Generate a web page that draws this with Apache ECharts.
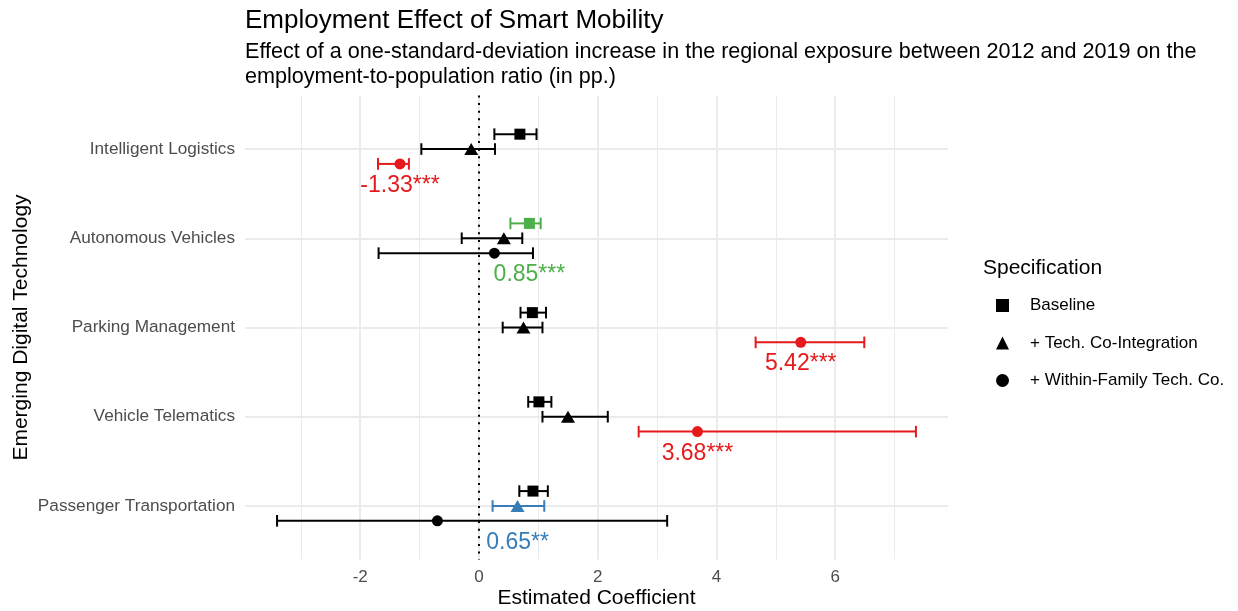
<!DOCTYPE html>
<html>
<head>
<meta charset="utf-8">
<script src="https://cdn.jsdelivr.net/npm/echarts@6/dist/echarts.min.js"></script>
<style>
  html, body { margin: 0; padding: 0; background: #fff; }
  #chart { width: 1238px; height: 611px; }
</style>
</head>
<body>
<div id="chart"></div>
<script>
// categories (top to bottom) and specifications
const technologies = ['Intelligent Logistics', 'Autonomous Vehicles', 'Parking Management', 'Vehicle Telematics', 'Passenger Transportation'];
const specs = ['Baseline', '+ Tech. Co-Integration', '+ Within-Family Tech. Co.'];

// point estimates and confidence bounds per specification
const baselineEst  = [0.69, 0.85, 0.90, 1.01, 0.91];
const baselineLow  = [0.26, 0.53, 0.70, 0.83, 0.68];
const baselineHigh = [0.97, 1.04, 1.13, 1.22, 1.16];

const coIntEst  = [-0.13, 0.42, 0.75, 1.50, 0.65];
const coIntLow  = [-0.97, -0.29, 0.40, 1.07, 0.23];
const coIntHigh = [0.27, 0.73, 1.07, 2.17, 1.10];

const familyEst  = [-1.33, 0.26, 5.42, 3.68, -0.70];
const familyLow  = [-1.70, -1.69, 4.66, 2.69, -3.40];
const familyHigh = [-1.18, 0.91, 6.49, 7.36, 3.17];

// significance stars shown only for highlighted estimates
const baselineStars = ['', '***', '', '', ''];
const coIntStars    = ['', '', '', '', '**'];
const familyStars   = ['***', '', '***', '***', ''];

const xTicks = [-2, 0, 2, 4, 6];
const xMinorTicks = [-3, -1, 1, 3, 5, 7];

const specColors = ['#4DAF4A', '#377EB8', '#E41A1C'];
const specSymbols = ['rect', 'triangle', 'circle'];
const symbolSizes = [11, [14, 12], 11];
const dodge = [-1 / 6, 0, 1 / 6];
const labelOffset = 0.41;

const ests = [baselineEst, coIntEst, familyEst];
const lows = [baselineLow, coIntLow, familyLow];
const highs = [baselineHigh, coIntHigh, familyHigh];
const stars = [baselineStars, coIntStars, familyStars];

let mycharts = echarts.init(document.getElementById('chart'));

function renderBar(params, api) {
    const y = api.value(2);
    const a = api.coord([api.value(0), y]);
    const b = api.coord([api.value(1), y]);
    const h = api.size([0, 0.13])[1] / 2;
    const style = { stroke: api.visual('color'), lineWidth: 2 };
    return {
        type: 'group',
        children: [
            { type: 'line', shape: { x1: a[0], y1: a[1], x2: b[0], y2: b[1] }, style: style },
            { type: 'line', shape: { x1: a[0], y1: a[1] - h, x2: a[0], y2: a[1] + h }, style: style },
            { type: 'line', shape: { x1: b[0], y1: b[1] - h, x2: b[0], y2: b[1] + h }, style: style }
        ]
    };
}

const series = [];
// error bars
specs.forEach(function (s, k) {
    series.push({
        type: 'custom',
        renderItem: renderBar,
        itemStyle: { color: '#000' },
        silent: true,
        z: 3,
        data: technologies.map(function (t, i) {
            const item = { value: [lows[k][i], highs[k][i], i + dodge[k]] };
            if (stars[k][i]) item.itemStyle = { color: specColors[k] };
            return item;
        })
    });
});
// points
specs.forEach(function (s, k) {
    series.push({
        name: s,
        type: 'scatter',
        symbol: specSymbols[k],
        symbolSize: symbolSizes[k],
        itemStyle: { color: '#000', opacity: 1 },
        z: 4,
        data: technologies.map(function (t, i) {
            const item = { value: [ests[k][i], i + dodge[k]] };
            if (stars[k][i]) item.itemStyle = { color: specColors[k] };
            return item;
        })
    });
});
// labels of highlighted estimates
const labelData = [];
specs.forEach(function (s, k) {
    technologies.forEach(function (t, i) {
        if (!stars[k][i]) return;
        labelData.push({
            value: [ests[k][i], i + labelOffset],
            label: { formatter: ests[k][i].toFixed(2) + stars[k][i], color: specColors[k] }
        });
    });
});
series.push({
    type: 'scatter',
    symbolSize: 0,
    silent: true,
    z: 5,
    label: {
        show: true,
        position: 'inside',
        fontSize: 23,
        fontFamily: 'Liberation Sans',
        textBorderWidth: 0,
        opacity: 1
    },
    data: labelData,
    markLine: {
        silent: true,
        symbol: 'none',
        label: { show: false },
        lineStyle: { color: '#000', width: 2, type: [2, 5.6] },
        data: [{ xAxis: 0 }]
    }
});

const option = {
    animation: false,
    textStyle: { fontFamily: 'Liberation Sans' },
    title: [
        {
            text: 'Employment Effect of Smart Mobility',
            left: 240, top: 3,
            textStyle: { fontSize: 26, fontWeight: 'normal', color: '#000' }
        },
        {
            text: 'Effect of a one-standard-deviation increase in the regional exposure between 2012 and 2019 on the\nemployment-to-population ratio (in pp.)',
            left: 240, top: 35,
            textStyle: { fontSize: 21.6, fontWeight: 'normal', color: '#000', lineHeight: 25 }
        },
        {
            text: 'Specification',
            left: 978, top: 253,
            textStyle: { fontSize: 21, fontWeight: 'normal', color: '#000' }
        }
    ],
    legend: {
        orient: 'vertical',
        left: 991, top: 292,
        itemWidth: 13, itemHeight: 13,
        itemGap: 20.5,
        selectedMode: false,
        textStyle: { fontSize: 17, color: '#000', padding: [0, 0, 0, 16] },
        data: [
            { name: specs[0], icon: 'rect' },
            { name: specs[1], icon: 'triangle' },
            { name: specs[2], icon: 'circle' }
        ]
    },
    grid: { left: 245, right: 290, top: 95.5, bottom: 51.5, outerBoundsMode: 'none', containLabel: false },
    xAxis: [
        {
            type: 'value',
            min: -3.94, max: 7.9,
            name: 'Estimated Coefficient',
            nameLocation: 'middle',
            nameGap: 28,
            nameMoveOverlap: false,
            nameTextStyle: { fontSize: 21, color: '#000', verticalAlign: 'top' },
            axisLine: { show: false },
            axisTick: { show: false, customValues: xTicks },
            axisLabel: { customValues: xTicks, fontSize: 17, color: '#4D4D4D', margin: 9 },
            splitLine: { show: true, lineStyle: { color: '#EBEBEB', width: 2 } }
        },
        {
            type: 'value',
            min: -3.94, max: 7.9,
            position: 'bottom',
            axisLine: { show: false },
            axisTick: { show: false, customValues: xMinorTicks },
            axisLabel: { show: false, customValues: xMinorTicks },
            splitLine: { show: true, lineStyle: { color: '#EBEBEB', width: 1 } }
        }
    ],
    yAxis: {
        type: 'value',
        inverse: true,
        min: -0.6, max: 4.6,
        name: 'Emerging Digital Technology',
        nameLocation: 'middle',
        nameGap: 213,
        nameMoveOverlap: false,
        nameRotate: 90,
        nameTextStyle: { fontSize: 21, color: '#000' },
        axisLine: { show: false },
        axisTick: { show: false, customValues: [0, 1, 2, 3, 4] },
        axisLabel: {
            customValues: [0, 1, 2, 3, 4],
            fontSize: 17.2, color: '#4D4D4D', margin: 10,
            formatter: function (v) { return technologies[Math.round(v)]; }
        },
        splitLine: { show: true, lineStyle: { color: '#EBEBEB', width: 2 } }
    },
    series: series
};

mycharts.setOption(option);
</script>
</body>
</html>
